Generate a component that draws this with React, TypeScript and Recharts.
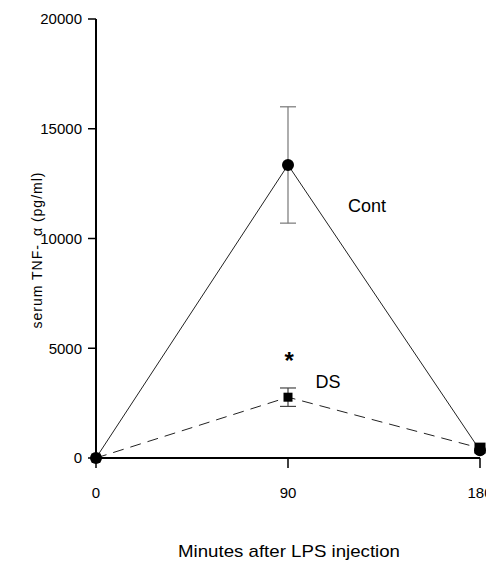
import React from 'react';
import {
  LineChart, Line, XAxis, YAxis, ErrorBar, ReferenceDot
} from 'recharts';

// minutes after LPS injection
const minutes = [0, 90, 180];
// serum TNF-alpha (pg/ml)
const contValues = [0, 13350, 350];
const contErrors = [0, 2650, 0];
const dsValues = [0, 2770, 450];
const dsErrors = [0, 420, 0];

const xTicks = [0, 90, 180];
const yTicks = [0, 5000, 10000, 15000, 20000];

const data = minutes.map((t, i) => ({
  t,
  cont: contValues[i],
  contErr: contErrors[i],
  ds: dsValues[i],
  dsErr: dsErrors[i],
}));

const FONT = '"Liberation Sans", Arial, Helvetica, sans-serif';
const INK = '#222';

function CircleDot(props: any) {
  const { cx, cy, index } = props;
  if (cx == null || cy == null) return null;
  return <circle key={`c-${index}`} cx={cx} cy={cy} r={6} fill="#000" />;
}

function SquareDot(props: any) {
  const { cx, cy, index } = props;
  if (cx == null || cy == null) return null;
  const s = index === 2 ? 11 : 9;
  return <rect key={`s-${index}`} x={cx - s / 2} y={cy - s / 2} width={s} height={s} fill="#000" />;
}

// text placed at a data point (used with ReferenceDot r=0)
function noteLabel(text: string, size: number, bold = false) {
  return (props: any) => {
    const vb = props.viewBox || {};
    const x = vb.cx ?? vb.x;
    const y = vb.cy ?? vb.y;
    return (
      <text x={x} y={y} textAnchor="middle" dominantBaseline="central"
        fontFamily={FONT} fontSize={size} fontWeight={bold ? 700 : 400} fill="#000">
        {text}
      </text>
    );
  };
}

export default function App() {
  return (
    <div style={{ position: 'absolute', left: 0, top: 0, width: 486, height: 566, background: '#fff' }}>
      <LineChart width={486} height={566} data={data}
        margin={{ top: 19, right: 6, left: 36, bottom: 48 }}>
        <XAxis
          dataKey="t"
          type="number"
          domain={[0, 180]}
          ticks={xTicks}
          tickSize={10}
          tickMargin={19}
          axisLine={{ stroke: '#000', strokeWidth: 2 }}
          tickLine={{ stroke: '#000', strokeWidth: 1.5 }}
          tick={{ fill: '#000', fontSize: 15, fontFamily: FONT }}
          height={60}
          interval={0}
          label={{
            content: () => (
              <text x={289} y={551} textAnchor="middle" dominantBaseline="central"
                fontFamily={FONT} fontSize={17} fill="#000"
                textLength={222} lengthAdjust="spacingAndGlyphs">
                Minutes after LPS injection
              </text>
            ),
          }}
        />
        <YAxis
          type="number"
          domain={[0, 20000]}
          ticks={yTicks}
          tickSize={8}
          tickMargin={6}
          width={60}
          interval={0}
          axisLine={{ stroke: '#000', strokeWidth: 2 }}
          tickLine={{ stroke: '#000', strokeWidth: 1.5 }}
          tick={{ fill: '#000', fontSize: 15, fontFamily: FONT }}
          label={{
            content: () => (
              <text x={37} y={250} transform="rotate(-90, 37, 250)" textAnchor="middle"
                dominantBaseline="central" fontFamily={FONT} fontSize={14} fill="#000"
                letterSpacing={1}>
                <tspan>serum TNF-</tspan>
                <tspan dx={8}>{'\u03b1 (pg/ml)'}</tspan>
              </text>
            ),
          }}
        />
        <Line
          dataKey="cont"
          stroke={INK}
          strokeWidth={1}
          dot={<CircleDot />}
          activeDot={false}
          isAnimationActive={false}
        >
          <ErrorBar dataKey="contErr" width={8} stroke="#777" strokeWidth={1.2} />
        </Line>
        <Line
          dataKey="ds"
          stroke={INK}
          strokeWidth={1}
          strokeDasharray="11 7"
          dot={<SquareDot />}
          activeDot={false}
          isAnimationActive={false}
        >
          <ErrorBar dataKey="dsErr" width={8} stroke="#444" strokeWidth={1.2} />
        </Line>
        <ReferenceDot x={127} y={11500} r={0} stroke="none" fill="none"
          label={{ content: noteLabel('Cont', 18) }} />
        <ReferenceDot x={108.8} y={3450} r={0} stroke="none" fill="none"
          label={{ content: noteLabel('DS', 18) }} />
        <ReferenceDot x={90.5} y={4450} r={0} stroke="none" fill="none"
          label={{ content: noteLabel('*', 24, true) }} />
      </LineChart>
    </div>
  );
}
